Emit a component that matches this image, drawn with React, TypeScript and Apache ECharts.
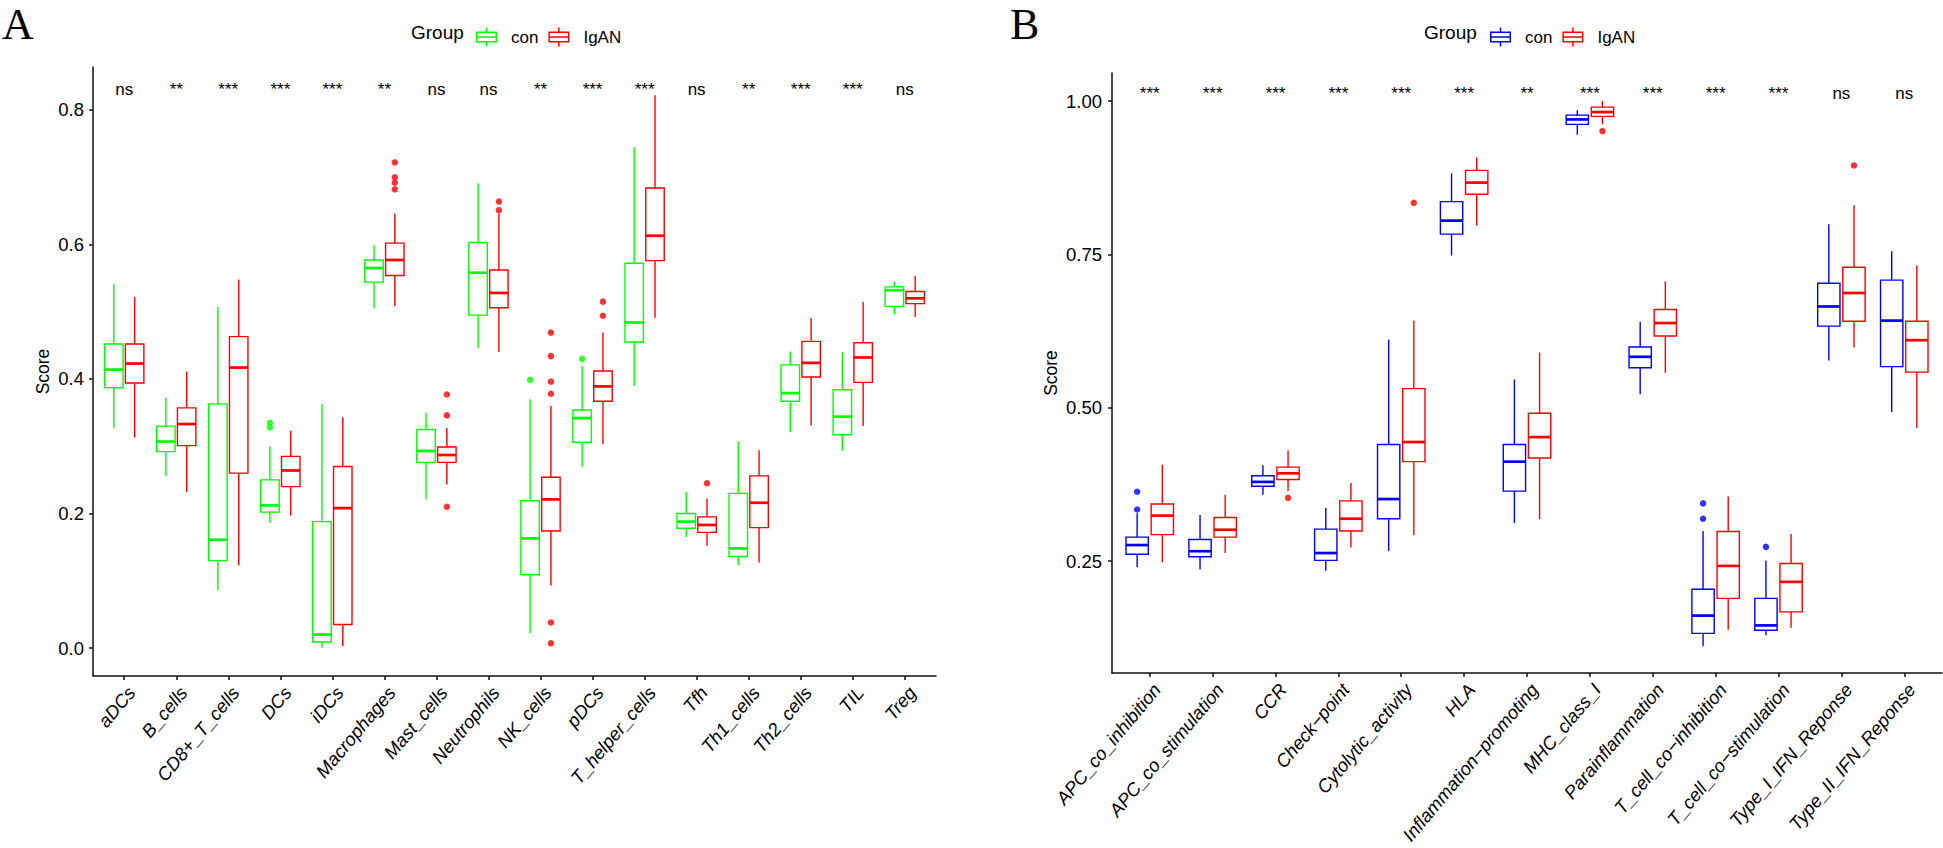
import React, { useEffect, useRef } from "react";
import * as echarts from "echarts";

// ---------- Panel A data ----------
const catsA = ["aDCs", "B_cells", "CD8+_T_cells", "DCs", "iDCs", "Macrophages", "Mast_cells", "Neutrophils", "NK_cells", "pDCs", "T_helper_cells", "Tfh", "Th1_cells", "Th2_cells", "TIL", "Treg"];
const sigA = ["ns", "**", "***", "***", "***", "**", "ns", "ns", "**", "***", "***", "ns", "**", "***", "***", "ns"];
// [min, Q1, median, Q3, max]
const conA = [
  [0.327, 0.387, 0.414, 0.452, 0.541],
  [0.255, 0.292, 0.307, 0.330, 0.372],
  [0.086, 0.130, 0.161, 0.363, 0.507],
  [0.186, 0.202, 0.212, 0.250, 0.300],
  [0.000, 0.009, 0.020, 0.188, 0.363],
  [0.505, 0.544, 0.565, 0.577, 0.599],
  [0.221, 0.276, 0.293, 0.325, 0.350],
  [0.446, 0.495, 0.558, 0.603, 0.691],
  [0.022, 0.109, 0.163, 0.219, 0.370],
  [0.270, 0.306, 0.342, 0.354, 0.419],
  [0.390, 0.455, 0.484, 0.572, 0.745],
  [0.165, 0.178, 0.188, 0.200, 0.232],
  [0.123, 0.136, 0.148, 0.230, 0.307],
  [0.321, 0.367, 0.379, 0.421, 0.441],
  [0.293, 0.317, 0.344, 0.384, 0.440],
  [0.496, 0.508, 0.532, 0.537, 0.545],
];
const igaA = [
  [0.313, 0.394, 0.423, 0.452, 0.522],
  [0.232, 0.301, 0.333, 0.357, 0.411],
  [0.123, 0.260, 0.417, 0.463, 0.548],
  [0.197, 0.240, 0.264, 0.285, 0.323],
  [0.003, 0.035, 0.208, 0.270, 0.343],
  [0.508, 0.554, 0.577, 0.602, 0.646],
  [0.243, 0.276, 0.287, 0.299, 0.327],
  [0.440, 0.506, 0.528, 0.562, 0.646],
  [0.093, 0.174, 0.221, 0.254, 0.360],
  [0.303, 0.367, 0.389, 0.412, 0.469],
  [0.491, 0.576, 0.613, 0.684, 0.822],
  [0.152, 0.172, 0.183, 0.195, 0.2225],
  [0.127, 0.179, 0.216, 0.256, 0.294],
  [0.331, 0.403, 0.424, 0.456, 0.491],
  [0.330, 0.395, 0.432, 0.454, 0.515],
  [0.492, 0.512, 0.520, 0.530, 0.553],
];
const conOutA = [[], [], [], [0.335, 0.328], [], [], [], [], [0.399], [0.430], [], [], [], [], [], []];
const igaOutA = [[], [], [], [], [], [0.722, 0.700, 0.692, 0.682], [0.377, 0.346, 0.210], [0.664, 0.651], [0.469, 0.434, 0.396, 0.378, 0.038, 0.007], [0.515, 0.494], [], [0.245], [], [], [], []];
const ticksA = [0, 0.2, 0.4, 0.6, 0.8];

// ---------- Panel B data ----------
const catsB = ["APC_co_inhibition", "APC_co_stimulation", "CCR", "Check\u2212point", "Cytolytic_activity", "HLA", "Inflammation\u2212promoting", "MHC_class_I", "Parainflammation", "T_cell_co\u2212inhibition", "T_cell_co\u2212stimulation", "Type_I_IFN_Reponse", "Type_II_IFN_Reponse"];
const sigB = ["***", "***", "***", "***", "***", "***", "**", "***", "***", "***", "***", "ns", "ns"];
const conB = [
  [0.240, 0.261, 0.276, 0.289, 0.328],
  [0.236, 0.257, 0.266, 0.285, 0.325],
  [0.358, 0.372, 0.379, 0.389, 0.406],
  [0.234, 0.251, 0.263, 0.302, 0.337],
  [0.266, 0.319, 0.351, 0.440, 0.611],
  [0.748, 0.783, 0.805, 0.836, 0.882],
  [0.312, 0.364, 0.412, 0.440, 0.546],
  [0.945, 0.962, 0.970, 0.977, 0.985],
  [0.522, 0.565, 0.583, 0.599, 0.640],
  [0.111, 0.132, 0.161, 0.204, 0.299],
  [0.129, 0.137, 0.145, 0.189, 0.251],
  [0.577, 0.633, 0.665, 0.703, 0.799],
  [0.493, 0.567, 0.642, 0.708, 0.755],
];
const igaB = [
  [0.248, 0.293, 0.324, 0.343, 0.407],
  [0.263, 0.289, 0.301, 0.321, 0.358],
  [0.364, 0.383, 0.393, 0.403, 0.430],
  [0.272, 0.299, 0.319, 0.348, 0.377],
  [0.292, 0.412, 0.444, 0.531, 0.642],
  [0.797, 0.848, 0.867, 0.887, 0.908],
  [0.318, 0.418, 0.452, 0.491, 0.590],
  [0.962, 0.975, 0.982, 0.990, 1.000],
  [0.557, 0.617, 0.638, 0.660, 0.706],
  [0.138, 0.189, 0.242, 0.298, 0.355],
  [0.141, 0.167, 0.216, 0.246, 0.294],
  [0.598, 0.641, 0.687, 0.729, 0.830],
  [0.467, 0.558, 0.610, 0.641, 0.732],
];
const conOutB = [[0.363, 0.334], [], [], [], [], [], [], [], [], [0.344, 0.319], [0.273], [], []];
const igaOutB = [[], [], [0.353], [], [0.834], [], [], [0.951], [], [], [], [0.895], []];
const ticksB = [0.25, 0.5, 0.75, 1.0];

const groups = ["con", "IgAN"];

// ---------- styling ----------
const FONT = "'Liberation Sans', Arial, Helvetica, sans-serif";
const SERIF = "'Liberation Serif', 'Times New Roman', serif";
const AX = "#111111";
const GREEN = "#00FF00";
const RED = "#FF0000";
const BLUE = "#0000FF";
const BOX_W = 0.355;
const DODGE = 0.2;
const LW = 1.4;
const MED_LW = 2.7;
const ANNOT_Y_A = 0.831;
const ANNOT_Y_B = 1.012;

const KEY_ICON =
  "path://M9.75 0H11.25V4H9.75Z M0 4H21V15H0Z M1.5 5.5V13.5H19.5V5.5Z M1.5 8.75H19.5V10.25H1.5Z M9.75 15H11.25V19H9.75Z";

const boxRenderer = (off: number) => (params: any, api: any) => {
  const x = api.value(0) + off;
  const pt = (v: number) => api.coord([x, v]);
  const band = api.size([1, 0])[0];
  const hw = (band * BOX_W) / 2;
  const cx = pt(api.value(1))[0];
  const yMin = pt(api.value(1))[1];
  const yQ1 = pt(api.value(2))[1];
  const yMed = pt(api.value(3))[1];
  const yQ3 = pt(api.value(4))[1];
  const yMax = pt(api.value(5))[1];
  const color = api.visual("color");
  return {
    type: "group",
    children: [
      { type: "line", shape: { x1: cx, y1: yMax, x2: cx, y2: yQ3 }, style: { stroke: color, lineWidth: LW } },
      { type: "line", shape: { x1: cx, y1: yQ1, x2: cx, y2: yMin }, style: { stroke: color, lineWidth: LW } },
      { type: "rect", shape: { x: cx - hw, y: yQ3, width: 2 * hw, height: yQ1 - yQ3 }, style: { fill: "#ffffff", stroke: color, lineWidth: LW } },
      { type: "line", shape: { x1: cx - hw, y1: yMed, x2: cx + hw, y2: yMed }, style: { stroke: color, lineWidth: MED_LW } },
    ],
  };
};

const textRenderer = (labels: string[]) => (params: any, api: any) => {
  const p = api.coord([api.value(0), api.value(1)]);
  return {
    type: "text",
    x: p[0],
    y: p[1],
    style: { text: labels[params.dataIndex], fill: "#000", fontSize: 17, fontFamily: FONT, align: "center", verticalAlign: "middle" },
  };
};

function panelSeries(
  idx: number,
  con: number[][],
  iga: number[][],
  conOut: number[][],
  igaOut: number[][],
  sig: string[],
  annotY: number,
  conColor: string
) {
  const boxData = (rows: number[][]) => rows.map((r, i) => [i, ...r]);
  const outData = (rows: number[][], off: number) => rows.flatMap((vals, i) => vals.map((v) => [i + off, v]));
  return [
    {
      type: "custom", name: groups[0], xAxisIndex: idx, yAxisIndex: idx,
      data: boxData(con), encode: { x: 0, y: [1, 2, 3, 4, 5] },
      itemStyle: { color: conColor }, renderItem: boxRenderer(-DODGE), silent: true,
    },
    {
      type: "custom", name: groups[1], xAxisIndex: idx, yAxisIndex: idx,
      data: boxData(iga), encode: { x: 0, y: [1, 2, 3, 4, 5] },
      itemStyle: { color: RED }, renderItem: boxRenderer(DODGE), silent: true,
    },
    {
      type: "scatter", name: groups[0] + " outliers", xAxisIndex: idx, yAxisIndex: idx,
      data: outData(conOut, -DODGE), symbol: "circle", symbolSize: 6.5,
      itemStyle: { color: conColor }, silent: true,
    },
    {
      type: "scatter", name: groups[1] + " outliers", xAxisIndex: idx, yAxisIndex: idx,
      data: outData(igaOut, DODGE), symbol: "circle", symbolSize: 6.5,
      itemStyle: { color: RED }, silent: true,
    },
    {
      type: "custom", name: "significance", xAxisIndex: idx, yAxisIndex: idx,
      data: sig.map((_, i) => [i, annotY]), encode: { x: 0, y: 1 },
      renderItem: textRenderer(sig), silent: true,
    },
  ];
}

function xAxisCfg(idx: number, cats: string[]) {
  const vals = cats.map((_, i) => i);
  return {
    type: "value", gridIndex: idx, min: -0.6, max: cats.length - 1 + 0.6,
    splitLine: { show: false },
    axisLine: { show: true, onZero: false, lineStyle: { color: AX, width: 1.5 } },
    axisTick: { show: true, length: 4, inside: false, customValues: vals, lineStyle: { color: AX, width: 1.5 } },
    axisLabel: {
      customValues: vals, formatter: (v: number) => cats[Math.round(v)] ?? "",
      rotate: 50, align: "right", verticalAlign: "top", margin: 7,
      fontStyle: "italic", fontSize: 18.5, color: "#000", fontFamily: FONT,
    },
  };
}

function yAxisCfg(idx: number, min: number, max: number, ticks: number[], digits: number, nameGap: number, margin: number) {
  return {
    type: "value", gridIndex: idx, min, max,
    splitLine: { show: false },
    axisLine: { show: true, onZero: false, lineStyle: { color: AX, width: 1.5 } },
    axisTick: { show: true, length: 4, customValues: ticks, lineStyle: { color: AX, width: 1.5 } },
    axisLabel: { customValues: ticks, formatter: (v: number) => v.toFixed(digits), fontSize: 18.5, color: "#000", fontFamily: FONT, margin },
    name: "Score", nameLocation: "middle", nameGap,
    nameTextStyle: { fontSize: 17.5, color: "#000", fontFamily: FONT },
  };
}

const legendCfg = (left: number, conColor: string) => ({
  left, top: 22.5, orient: "horizontal", itemWidth: 21, itemHeight: 19, itemGap: 10,
  selectedMode: false, symbolKeepAspect: true,
  textStyle: { fontSize: 17, color: "#000", fontFamily: FONT, padding: [0, 0, 0, 9] },
  data: [
    { name: groups[0], icon: KEY_ICON, itemStyle: { color: conColor, borderWidth: 0 } },
    { name: groups[1], icon: KEY_ICON, itemStyle: { color: RED, borderWidth: 0 } },
  ],
});

export default function App() {
  const ref = useRef<HTMLDivElement>(null);
  useEffect(() => {
    if (!ref.current) return;
    const chart = echarts.init(ref.current, null, { renderer: "svg" });
    chart.setOption({
      animation: false,
      backgroundColor: "#ffffff",
      grid: [
        { left: 93, top: 67, width: 843, height: 609, containLabel: false, outerBoundsMode: "none" },
        { left: 1112, top: 73, width: 830, height: 600, containLabel: false, outerBoundsMode: "none" },
      ],
      xAxis: [xAxisCfg(0, catsA), xAxisCfg(1, catsB)],
      yAxis: [
        yAxisCfg(0, -0.0416, 0.8639, ticksA, 1, 41.5, 9),
        yAxisCfg(1, 0.0674, 1.0457, ticksB, 2, 52.5, 10),
      ],
      legend: [legendCfg(471, GREEN), legendCfg(1485, BLUE)],
      graphic: [
        { type: "text", x: 2, y: 24, style: { text: "A", fontSize: 44, fontFamily: SERIF, fill: "#000", align: "left", verticalAlign: "middle" } },
        { type: "text", x: 1010, y: 24, style: { text: "B", fontSize: 44, fontFamily: SERIF, fill: "#000", align: "left", verticalAlign: "middle" } },
        { type: "text", x: 411, y: 32, style: { text: "Group", fontSize: 19, fontFamily: FONT, fill: "#000", align: "left", verticalAlign: "middle" } },
        { type: "text", x: 1424, y: 32, style: { text: "Group", fontSize: 19, fontFamily: FONT, fill: "#000", align: "left", verticalAlign: "middle" } },
      ],
      series: [
        ...panelSeries(0, conA, igaA, conOutA, igaOutA, sigA, ANNOT_Y_A, GREEN),
        ...panelSeries(1, conB, igaB, conOutB, igaOutB, sigB, ANNOT_Y_B, BLUE),
      ],
    });
    return () => chart.dispose();
  }, []);
  return <div ref={ref} style={{ position: "absolute", left: 0, top: 0, width: 1943, height: 848 }} />;
}
